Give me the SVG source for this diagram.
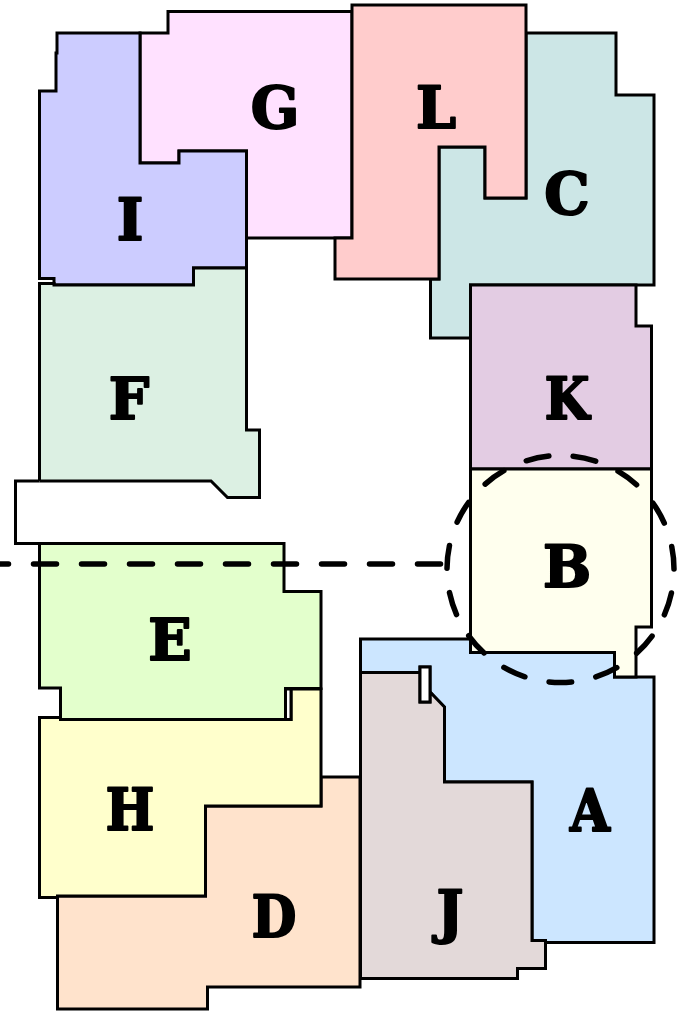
<svg xmlns="http://www.w3.org/2000/svg" width="698" height="1015" viewBox="0 0 698 1015">
<style>
.r{stroke:#000;stroke-width:3;stroke-linejoin:miter}
.t{font-family:"DejaVu Serif Condensed","DejaVu Serif",serif;font-stretch:condensed;font-weight:700;font-size:57px;text-anchor:middle;fill:#000;stroke:#000;stroke-width:2;stroke-linejoin:round}
.w{font-family:"DejaVu Serif",serif;font-stretch:normal}
.d{fill:none;stroke:#000;stroke-width:5.500;stroke-linecap:round}
</style>
<rect width="698" height="1015" fill="#fff"/>
<g id="node-C"><path class="r" fill="#cce6e6" d="M526 33H616V95H654V285H470.500V338H430.500V279H439V147H485V198H526Z"/><text class="t w" x="567" y="214">C</text></g>
<g id="node-G"><path class="r" fill="#ffe1ff" d="M140 33H168V11.500H352V238H246.500V151H179V163H140Z"/><text class="t w" x="275" y="128">G</text></g>
<g id="node-L"><path class="r" fill="#ffcccc" d="M352 5H526V198H485V147H439V279H335V238H352Z"/><text class="t w" x="436" y="128">L</text></g>
<g id="node-I"><path class="r" fill="#ccccff" d="M57 33H140V163H179V151H246.500V268H193.500V285H54V278.500H39.500V91H56V53H57Z"/><text class="t w" x="130" y="240">I</text></g>
<g id="node-F"><path class="r" fill="#dcf0e3" d="M39.500 283.500H54V285H193.500V268H246.500V430H259.500V497.500H227.500L211 481H39.500Z"/><text class="t w" x="129" y="419">F</text></g>
<g id="node-K"><path class="r" fill="#e3cce3" d="M470.500 285H636V326H651.500V469H470.500Z"/><text class="t" x="567" y="419">K</text></g>
<g id="node-A"><path class="r" fill="#cce6ff" d="M360.500 639H470.500V652.500H614.500V677H654V942.500H532V782H444.500V707L430 692V667H420V672.500H360.500Z"/><text class="t" x="590" y="831">A</text></g>
<g id="node-B"><path class="r" fill="#ffffee" d="M470.500 469H651.500V627H636V677H614.500V652.500H470.500Z"/><text class="t w" x="567" y="587">B</text></g>
<g id="node-J"><path class="r" fill="#e3d9d9" d="M360.500 672.500H420V702H430V692L444.500 707V782H532V940.500H545.500V968.500H517.500V978.500H360.500Z"/><text class="t w" x="450" y="932">J</text></g>
<g id="node-gap-small"><rect class="r" fill="#fff" x="420" y="667" width="10" height="35"/></g>
<g id="node-D"><path class="r" fill="#ffe3cc" d="M321 777H360V987H207.500V1009H57.500V896H205.500V806H321Z"/><text class="t" x="274" y="937">D</text></g>
<g id="node-H"><path class="r" fill="#ffffcc" d="M39.500 717.500H60.500V719.500H291V689H321V806H205.500V896H57.500V897.500H39.500Z"/><text class="t" x="130" y="830">H</text></g>
<g id="node-gap-left"><path class="r" fill="#fff" d="M39.500 481H15.500V543.500H39.500"/></g>
<g id="node-gap-sliver"><rect class="r" fill="#fff" x="285.500" y="689" width="5.500" height="30.500"/></g>
<g id="node-E"><path class="r" fill="#e3ffcc" d="M39.500 543.500H284V591.500H321V688.500H285.500V719.500H60.500V688H39.500Z"/><text class="t w" x="170" y="660">E</text></g>
<g id="connectors">
<path class="d" stroke-dasharray="23 25" d="M-14.500 564H446"/>
<circle class="d" cx="560.500" cy="569" r="113.500" stroke-dasharray="23 24.540" stroke-dashoffset="-24.150"/>
</g>
</svg>
